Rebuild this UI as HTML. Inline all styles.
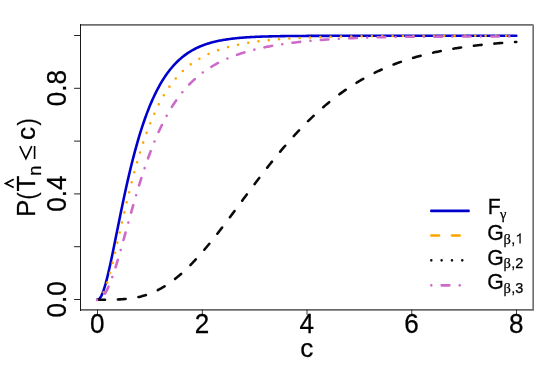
<!DOCTYPE html>
<html><head><meta charset="utf-8"><title>plot</title>
<style>html,body{margin:0;padding:0;background:#fff;}svg{display:block;will-change:transform;}text{font-family:"Liberation Sans",sans-serif;fill:#000;stroke:#000;stroke-width:0.25px;}.ser{font-family:"Liberation Serif",serif;}</style>
</head><body>
<svg width="558" height="372" viewBox="0 0 558 372">
<rect x="0" y="0" width="558" height="372" fill="#fff"/>
<path d="M97.26,299.70 L98.31,299.49 L99.36,298.76 L100.40,297.46 L101.45,295.61 L102.50,293.24 L103.55,290.41 L104.59,287.16 L105.64,283.54 L106.69,279.59 L107.74,275.36 L108.78,270.90 L109.83,266.23 L110.88,261.40 L111.93,256.45 L112.97,251.39 L114.02,246.25 L115.07,241.07 L116.12,235.86 L117.16,230.64 L118.21,225.43 L119.26,220.25 L120.31,215.10 L121.35,210.00 L122.40,204.95 L123.45,199.98 L124.50,195.08 L125.55,190.26 L126.59,185.53 L127.64,180.89 L128.69,176.34 L129.74,171.90 L130.78,167.55 L131.83,163.30 L132.88,159.15 L133.93,155.11 L134.97,151.17 L136.02,147.33 L137.07,143.59 L138.12,139.96 L139.16,136.42 L140.21,132.99 L141.26,129.66 L142.31,126.42 L143.35,123.28 L144.40,120.23 L145.45,117.27 L146.50,114.41 L147.54,111.63 L148.59,108.94 L149.64,106.33 L150.69,103.81 L151.74,101.37 L152.78,99.00 L153.83,96.71 L154.88,94.50 L155.93,92.36 L156.97,90.29 L158.02,88.29 L159.07,86.36 L160.12,84.49 L161.16,82.68 L162.21,80.94 L163.26,79.25 L164.31,77.63 L165.35,76.06 L166.40,74.54 L167.45,73.08 L168.50,71.67 L169.54,70.30 L170.59,68.99 L171.64,67.72 L172.69,66.50 L173.73,65.32 L174.78,64.18 L175.83,63.09 L176.88,62.03 L177.93,61.01 L178.97,60.03 L180.02,59.09 L181.07,58.18 L182.12,57.30 L183.16,56.46 L184.21,55.64 L185.26,54.86 L186.31,54.10 L187.35,53.38 L188.40,52.68 L189.45,52.01 L190.50,51.36 L191.54,50.74 L192.59,50.14 L193.64,49.56 L194.69,49.01 L195.73,48.47 L196.78,47.96 L197.83,47.47 L198.88,46.99 L199.92,46.54 L200.97,46.10 L202.02,45.68 L203.07,45.28 L204.12,44.89 L205.16,44.51 L206.21,44.15 L207.26,43.81 L208.31,43.48 L209.35,43.16 L210.40,42.86 L211.45,42.56 L212.50,42.28 L213.54,42.01 L214.59,41.75 L215.64,41.50 L216.69,41.26 L217.73,41.03 L218.78,40.81 L219.83,40.60 L220.88,40.40 L221.92,40.21 L222.97,40.02 L224.02,39.84 L225.07,39.67 L226.11,39.50 L227.16,39.35 L228.21,39.19 L229.26,39.05 L230.31,38.91 L231.35,38.78 L232.40,38.65 L233.45,38.53 L234.50,38.41 L235.54,38.30 L236.59,38.19 L237.64,38.09 L238.69,37.99 L239.73,37.89 L240.78,37.80 L241.83,37.71 L242.88,37.63 L243.92,37.55 L244.97,37.48 L246.02,37.40 L247.07,37.33 L248.11,37.27 L249.16,37.20 L250.21,37.14 L251.26,37.08 L252.30,37.02 L253.35,36.97 L254.40,36.92 L255.45,36.87 L256.50,36.82 L257.54,36.78 L258.59,36.73 L259.64,36.69 L260.69,36.65 L261.73,36.61 L262.78,36.58 L263.83,36.54 L264.88,36.51 L265.92,36.48 L266.97,36.45 L268.02,36.42 L269.07,36.39 L270.11,36.37 L271.16,36.34 L272.21,36.32 L273.26,36.29 L274.30,36.27 L275.35,36.25 L276.40,36.23 L277.45,36.21 L278.49,36.19 L279.54,36.17 L280.59,36.16 L281.64,36.14 L282.69,36.13 L283.73,36.11 L284.78,36.10 L285.83,36.08 L286.88,36.07 L287.92,36.06 L288.97,36.05 L290.02,36.03 L291.07,36.02 L292.11,36.01 L293.16,36.00 L294.21,35.99 L295.26,35.99 L296.30,35.98 L297.35,35.97 L298.40,35.96 L299.45,35.95 L300.49,35.95 L301.54,35.94 L302.59,35.93 L303.64,35.93 L304.68,35.92 L305.73,35.92 L306.78,35.91 L307.83,35.91 L308.88,35.90 L309.92,35.90 L310.97,35.89 L312.02,35.89 L313.07,35.88 L314.11,35.88 L315.16,35.88 L316.21,35.87 L317.26,35.87 L318.30,35.87 L319.35,35.86 L320.40,35.86 L321.45,35.86 L322.49,35.85 L323.54,35.85 L324.59,35.85 L325.64,35.85 L326.68,35.84 L327.73,35.84 L328.78,35.84 L329.83,35.84 L330.87,35.84 L331.92,35.84 L332.97,35.83 L334.02,35.83 L335.07,35.83 L336.11,35.83 L337.16,35.83 L338.21,35.83 L339.26,35.83 L340.30,35.82 L341.35,35.82 L342.40,35.82 L343.45,35.82 L344.49,35.82 L345.54,35.82 L346.59,35.82 L347.64,35.82 L348.68,35.82 L349.73,35.82 L350.78,35.81 L351.83,35.81 L352.87,35.81 L353.92,35.81 L354.97,35.81 L356.02,35.81 L357.06,35.81 L358.11,35.81 L359.16,35.81 L360.21,35.81 L361.26,35.81 L362.30,35.81 L363.35,35.81 L364.40,35.81 L365.45,35.81 L366.49,35.81 L367.54,35.81 L368.59,35.81 L369.64,35.81 L370.68,35.81 L371.73,35.81 L372.78,35.81 L373.83,35.81 L374.87,35.80 L375.92,35.80 L376.97,35.80 L378.02,35.80 L379.06,35.80 L380.11,35.80 L381.16,35.80 L382.21,35.80 L383.25,35.80 L384.30,35.80 L385.35,35.80 L386.40,35.80 L387.45,35.80 L388.49,35.80 L389.54,35.80 L390.59,35.80 L391.64,35.80 L392.68,35.80 L393.73,35.80 L394.78,35.80 L395.83,35.80 L396.87,35.80 L397.92,35.80 L398.97,35.80 L400.02,35.80 L401.06,35.80 L402.11,35.80 L403.16,35.80 L404.21,35.80 L405.25,35.80 L406.30,35.80 L407.35,35.80 L408.40,35.80 L409.44,35.80 L410.49,35.80 L411.54,35.80 L412.59,35.80 L413.64,35.80 L414.68,35.80 L415.73,35.80 L416.78,35.80 L417.83,35.80 L418.87,35.80 L419.92,35.80 L420.97,35.80 L422.02,35.80 L423.06,35.80 L424.11,35.80 L425.16,35.80 L426.21,35.80 L427.25,35.80 L428.30,35.80 L429.35,35.80 L430.40,35.80 L431.44,35.80 L432.49,35.80 L433.54,35.80 L434.59,35.80 L435.63,35.80 L436.68,35.80 L437.73,35.80 L438.78,35.80 L439.83,35.80 L440.87,35.80 L441.92,35.80 L442.97,35.80 L444.02,35.80 L445.06,35.80 L446.11,35.80 L447.16,35.80 L448.21,35.80 L449.25,35.80 L450.30,35.80 L451.35,35.80 L452.40,35.80 L453.44,35.80 L454.49,35.80 L455.54,35.80 L456.59,35.80 L457.63,35.80 L458.68,35.80 L459.73,35.80 L460.78,35.80 L461.82,35.80 L462.87,35.80 L463.92,35.80 L464.97,35.80 L466.02,35.80 L467.06,35.80 L468.11,35.80 L469.16,35.80 L470.21,35.80 L471.25,35.80 L472.30,35.80 L473.35,35.80 L474.40,35.80 L475.44,35.80 L476.49,35.80 L477.54,35.80 L478.59,35.80 L479.63,35.80 L480.68,35.80 L481.73,35.80 L482.78,35.80 L483.82,35.80 L484.87,35.80 L485.92,35.80 L486.97,35.80 L488.01,35.80 L489.06,35.80 L490.11,35.80 L491.16,35.80 L492.21,35.80 L493.25,35.80 L494.30,35.80 L495.35,35.80 L496.40,35.80 L497.44,35.80 L498.49,35.80 L499.54,35.80 L500.59,35.80 L501.63,35.80 L502.68,35.80 L503.73,35.80 L504.78,35.80 L505.82,35.80 L506.87,35.80 L507.92,35.80 L508.97,35.80 L510.01,35.80 L511.06,35.80 L512.11,35.80 L513.16,35.80 L514.20,35.80 L515.25,35.80 L516.30,35.80" stroke="#0000cd" fill="none" stroke-width="2.58" stroke-linecap="round" stroke-linejoin="round"/>
<path d="M97.26,299.70 L98.31,299.55 L99.36,299.00 L100.40,298.03 L101.45,296.64 L102.50,294.86 L103.55,292.70 L104.59,290.20 L105.64,287.38 L106.69,284.28 L107.74,280.92 L108.78,277.34 L109.83,273.55 L110.88,269.60 L111.93,265.49 L112.97,261.26 L114.02,256.92 L115.07,252.51 L116.12,248.02 L117.16,243.49 L118.21,238.92 L119.26,234.34 L120.31,229.75 L121.35,225.16 L122.40,220.60 L123.45,216.06 L124.50,211.56 L125.55,207.10 L126.59,202.69 L127.64,198.33 L128.69,194.04 L129.74,189.81 L130.78,185.66 L131.83,181.57 L132.88,177.57 L133.93,173.64 L134.97,169.80 L136.02,166.03 L137.07,162.35 L138.12,158.76 L139.16,155.24 L140.21,151.82 L141.26,148.48 L142.31,145.22 L143.35,142.05 L144.40,138.96 L145.45,135.95 L146.50,133.02 L147.54,130.18 L148.59,127.41 L149.64,124.73 L150.69,122.12 L151.74,119.58 L152.78,117.12 L153.83,114.73 L154.88,112.41 L155.93,110.16 L156.97,107.98 L158.02,105.86 L159.07,103.81 L160.12,101.82 L161.16,99.89 L162.21,98.02 L163.26,96.21 L164.31,94.45 L165.35,92.75 L166.40,91.10 L167.45,89.50 L168.50,87.95 L169.54,86.45 L170.59,85.00 L171.64,83.59 L172.69,82.23 L173.73,80.90 L174.78,79.62 L175.83,78.38 L176.88,77.18 L177.93,76.02 L178.97,74.89 L180.02,73.80 L181.07,72.74 L182.12,71.71 L183.16,70.72 L184.21,69.75 L185.26,68.82 L186.31,67.91 L187.35,67.03 L188.40,66.18 L189.45,65.35 L190.50,64.55 L191.54,63.78 L192.59,63.02 L193.64,62.29 L194.69,61.59 L195.73,60.90 L196.78,60.23 L197.83,59.58 L198.88,58.95 L199.92,58.34 L200.97,57.75 L202.02,57.18 L203.07,56.62 L204.12,56.08 L205.16,55.55 L206.21,55.04 L207.26,54.54 L208.31,54.06 L209.35,53.59 L210.40,53.14 L211.45,52.69 L212.50,52.26 L213.54,51.85 L214.59,51.44 L215.64,51.04 L216.69,50.66 L217.73,50.28 L218.78,49.92 L219.83,49.57 L220.88,49.22 L221.92,48.89 L222.97,48.56 L224.02,48.24 L225.07,47.93 L226.11,47.63 L227.16,47.34 L228.21,47.06 L229.26,46.78 L230.31,46.51 L231.35,46.24 L232.40,45.99 L233.45,45.74 L234.50,45.49 L235.54,45.26 L236.59,45.03 L237.64,44.80 L238.69,44.58 L239.73,44.37 L240.78,44.16 L241.83,43.96 L242.88,43.76 L243.92,43.57 L244.97,43.38 L246.02,43.20 L247.07,43.02 L248.11,42.84 L249.16,42.67 L250.21,42.51 L251.26,42.34 L252.30,42.19 L253.35,42.03 L254.40,41.88 L255.45,41.74 L256.50,41.59 L257.54,41.45 L258.59,41.32 L259.64,41.19 L260.69,41.06 L261.73,40.93 L262.78,40.81 L263.83,40.69 L264.88,40.57 L265.92,40.46 L266.97,40.34 L268.02,40.23 L269.07,40.13 L270.11,40.02 L271.16,39.92 L272.21,39.82 L273.26,39.73 L274.30,39.63 L275.35,39.54 L276.40,39.45 L277.45,39.36 L278.49,39.28 L279.54,39.20 L280.59,39.11 L281.64,39.03 L282.69,38.96 L283.73,38.88 L284.78,38.81 L285.83,38.74 L286.88,38.66 L287.92,38.60 L288.97,38.53 L290.02,38.46 L291.07,38.40 L292.11,38.34 L293.16,38.28 L294.21,38.22 L295.26,38.16 L296.30,38.10 L297.35,38.05 L298.40,37.99 L299.45,37.94 L300.49,37.89 L301.54,37.84 L302.59,37.79 L303.64,37.74 L304.68,37.69 L305.73,37.65 L306.78,37.60 L307.83,37.56 L308.88,37.52 L309.92,37.47 L310.97,37.43 L312.02,37.39 L313.07,37.36 L314.11,37.32 L315.16,37.28 L316.21,37.25 L317.26,37.21 L318.30,37.18 L319.35,37.14 L320.40,37.11 L321.45,37.08 L322.49,37.05 L323.54,37.02 L324.59,36.99 L325.64,36.96 L326.68,36.93 L327.73,36.90 L328.78,36.88 L329.83,36.85 L330.87,36.82 L331.92,36.80 L332.97,36.77 L334.02,36.75 L335.07,36.73 L336.11,36.70 L337.16,36.68 L338.21,36.66 L339.26,36.64 L340.30,36.62 L341.35,36.60 L342.40,36.58 L343.45,36.56 L344.49,36.54 L345.54,36.52 L346.59,36.50 L347.64,36.49 L348.68,36.47 L349.73,36.45 L350.78,36.44 L351.83,36.42 L352.87,36.41 L353.92,36.39 L354.97,36.38 L356.02,36.36 L357.06,36.35 L358.11,36.34 L359.16,36.32 L360.21,36.31 L361.26,36.30 L362.30,36.28 L363.35,36.27 L364.40,36.26 L365.45,36.25 L366.49,36.24 L367.54,36.23 L368.59,36.22 L369.64,36.21 L370.68,36.20 L371.73,36.19 L372.78,36.18 L373.83,36.17 L374.87,36.16 L375.92,36.15 L376.97,36.14 L378.02,36.13 L379.06,36.12 L380.11,36.12 L381.16,36.11 L382.21,36.10 L383.25,36.09 L384.30,36.09 L385.35,36.08 L386.40,36.07 L387.45,36.06 L388.49,36.06 L389.54,36.05 L390.59,36.04 L391.64,36.04 L392.68,36.03 L393.73,36.03 L394.78,36.02 L395.83,36.02 L396.87,36.01 L397.92,36.00 L398.97,36.00 L400.02,35.99 L401.06,35.99 L402.11,35.98 L403.16,35.98 L404.21,35.98 L405.25,35.97 L406.30,35.97 L407.35,35.96 L408.40,35.96 L409.44,35.95 L410.49,35.95 L411.54,35.95 L412.59,35.94 L413.64,35.94 L414.68,35.94 L415.73,35.93 L416.78,35.93 L417.83,35.93 L418.87,35.92 L419.92,35.92 L420.97,35.92 L422.02,35.91 L423.06,35.91 L424.11,35.91 L425.16,35.91 L426.21,35.90 L427.25,35.90 L428.30,35.90 L429.35,35.89 L430.40,35.89 L431.44,35.89 L432.49,35.89 L433.54,35.89 L434.59,35.88 L435.63,35.88 L436.68,35.88 L437.73,35.88 L438.78,35.88 L439.83,35.87 L440.87,35.87 L441.92,35.87 L442.97,35.87 L444.02,35.87 L445.06,35.86 L446.11,35.86 L447.16,35.86 L448.21,35.86 L449.25,35.86 L450.30,35.86 L451.35,35.86 L452.40,35.85 L453.44,35.85 L454.49,35.85 L455.54,35.85 L456.59,35.85 L457.63,35.85 L458.68,35.85 L459.73,35.84 L460.78,35.84 L461.82,35.84 L462.87,35.84 L463.92,35.84 L464.97,35.84 L466.02,35.84 L467.06,35.84 L468.11,35.84 L469.16,35.84 L470.21,35.83 L471.25,35.83 L472.30,35.83 L473.35,35.83 L474.40,35.83 L475.44,35.83 L476.49,35.83 L477.54,35.83 L478.59,35.83 L479.63,35.83 L480.68,35.83 L481.73,35.83 L482.78,35.83 L483.82,35.82 L484.87,35.82 L485.92,35.82 L486.97,35.82 L488.01,35.82 L489.06,35.82 L490.11,35.82 L491.16,35.82 L492.21,35.82 L493.25,35.82 L494.30,35.82 L495.35,35.82 L496.40,35.82 L497.44,35.82 L498.49,35.82 L499.54,35.82 L500.59,35.82 L501.63,35.82 L502.68,35.82 L503.73,35.81 L504.78,35.81 L505.82,35.81 L506.87,35.81 L507.92,35.81 L508.97,35.81 L510.01,35.81 L511.06,35.81 L512.11,35.81 L513.16,35.81 L514.20,35.81 L515.25,35.81 L516.30,35.81" stroke="#ffa500" stroke-dasharray="0 10.333" stroke-dashoffset="0.1" fill="none" stroke-width="2.58" stroke-linecap="round" stroke-linejoin="round"/>
<path d="M97.26,299.70 L98.31,299.70 L99.36,299.70 L100.40,299.70 L101.45,299.70 L102.50,299.70 L103.55,299.69 L104.59,299.69 L105.64,299.69 L106.69,299.68 L107.74,299.67 L108.78,299.66 L109.83,299.65 L110.88,299.64 L111.93,299.62 L112.97,299.60 L114.02,299.58 L115.07,299.55 L116.12,299.52 L117.16,299.49 L118.21,299.45 L119.26,299.40 L120.31,299.35 L121.35,299.29 L122.40,299.23 L123.45,299.15 L124.50,299.07 L125.55,298.99 L126.59,298.89 L127.64,298.78 L128.69,298.67 L129.74,298.54 L130.78,298.41 L131.83,298.26 L132.88,298.11 L133.93,297.94 L134.97,297.76 L136.02,297.56 L137.07,297.35 L138.12,297.13 L139.16,296.90 L140.21,296.65 L141.26,296.39 L142.31,296.11 L143.35,295.82 L144.40,295.51 L145.45,295.19 L146.50,294.85 L147.54,294.49 L148.59,294.12 L149.64,293.73 L150.69,293.33 L151.74,292.90 L152.78,292.46 L153.83,292.01 L154.88,291.53 L155.93,291.04 L156.97,290.53 L158.02,290.00 L159.07,289.46 L160.12,288.89 L161.16,288.31 L162.21,287.71 L163.26,287.10 L164.31,286.46 L165.35,285.81 L166.40,285.14 L167.45,284.45 L168.50,283.74 L169.54,283.02 L170.59,282.28 L171.64,281.52 L172.69,280.75 L173.73,279.96 L174.78,279.15 L175.83,278.32 L176.88,277.48 L177.93,276.62 L178.97,275.74 L180.02,274.85 L181.07,273.94 L182.12,273.01 L183.16,272.06 L184.21,271.10 L185.26,270.12 L186.31,269.13 L187.35,268.12 L188.40,267.09 L189.45,266.05 L190.50,264.99 L191.54,263.92 L192.59,262.83 L193.64,261.73 L194.69,260.62 L195.73,259.49 L196.78,258.35 L197.83,257.20 L198.88,256.03 L199.92,254.85 L200.97,253.66 L202.02,252.45 L203.07,251.24 L204.12,250.01 L205.16,248.77 L206.21,247.52 L207.26,246.27 L208.31,245.00 L209.35,243.72 L210.40,242.43 L211.45,241.14 L212.50,239.83 L213.54,238.52 L214.59,237.20 L215.64,235.87 L216.69,234.53 L217.73,233.19 L218.78,231.84 L219.83,230.49 L220.88,229.13 L221.92,227.76 L222.97,226.39 L224.02,225.01 L225.07,223.63 L226.11,222.24 L227.16,220.85 L228.21,219.46 L229.26,218.06 L230.31,216.67 L231.35,215.26 L232.40,213.86 L233.45,212.45 L234.50,211.04 L235.54,209.63 L236.59,208.22 L237.64,206.81 L238.69,205.40 L239.73,203.99 L240.78,202.57 L241.83,201.16 L242.88,199.75 L243.92,198.34 L244.97,196.93 L246.02,195.52 L247.07,194.11 L248.11,192.71 L249.16,191.30 L250.21,189.90 L251.26,188.50 L252.30,187.11 L253.35,185.71 L254.40,184.32 L255.45,182.94 L256.50,181.56 L257.54,180.18 L258.59,178.80 L259.64,177.43 L260.69,176.06 L261.73,174.70 L262.78,173.35 L263.83,171.99 L264.88,170.65 L265.92,169.30 L266.97,167.97 L268.02,166.64 L269.07,165.31 L270.11,163.99 L271.16,162.68 L272.21,161.38 L273.26,160.08 L274.30,158.78 L275.35,157.49 L276.40,156.21 L277.45,154.94 L278.49,153.68 L279.54,152.42 L280.59,151.16 L281.64,149.92 L282.69,148.68 L283.73,147.45 L284.78,146.23 L285.83,145.02 L286.88,143.81 L287.92,142.61 L288.97,141.42 L290.02,140.24 L291.07,139.07 L292.11,137.90 L293.16,136.74 L294.21,135.59 L295.26,134.45 L296.30,133.32 L297.35,132.19 L298.40,131.08 L299.45,129.97 L300.49,128.87 L301.54,127.78 L302.59,126.70 L303.64,125.63 L304.68,124.56 L305.73,123.51 L306.78,122.46 L307.83,121.43 L308.88,120.40 L309.92,119.38 L310.97,118.37 L312.02,117.36 L313.07,116.37 L314.11,115.39 L315.16,114.41 L316.21,113.44 L317.26,112.49 L318.30,111.54 L319.35,110.60 L320.40,109.67 L321.45,108.74 L322.49,107.83 L323.54,106.93 L324.59,106.03 L325.64,105.14 L326.68,104.27 L327.73,103.40 L328.78,102.54 L329.83,101.68 L330.87,100.84 L331.92,100.01 L332.97,99.18 L334.02,98.36 L335.07,97.55 L336.11,96.75 L337.16,95.96 L338.21,95.18 L339.26,94.40 L340.30,93.64 L341.35,92.88 L342.40,92.13 L343.45,91.39 L344.49,90.65 L345.54,89.93 L346.59,89.21 L347.64,88.50 L348.68,87.80 L349.73,87.11 L350.78,86.42 L351.83,85.74 L352.87,85.07 L353.92,84.41 L354.97,83.76 L356.02,83.11 L357.06,82.47 L358.11,81.84 L359.16,81.22 L360.21,80.60 L361.26,79.99 L362.30,79.39 L363.35,78.80 L364.40,78.21 L365.45,77.63 L366.49,77.06 L367.54,76.49 L368.59,75.93 L369.64,75.38 L370.68,74.84 L371.73,74.30 L372.78,73.77 L373.83,73.24 L374.87,72.72 L375.92,72.21 L376.97,71.71 L378.02,71.21 L379.06,70.72 L380.11,70.23 L381.16,69.75 L382.21,69.28 L383.25,68.82 L384.30,68.35 L385.35,67.90 L386.40,67.45 L387.45,67.01 L388.49,66.57 L389.54,66.14 L390.59,65.72 L391.64,65.30 L392.68,64.88 L393.73,64.48 L394.78,64.07 L395.83,63.68 L396.87,63.29 L397.92,62.90 L398.97,62.52 L400.02,62.14 L401.06,61.77 L402.11,61.41 L403.16,61.05 L404.21,60.69 L405.25,60.34 L406.30,60.00 L407.35,59.66 L408.40,59.32 L409.44,58.99 L410.49,58.66 L411.54,58.34 L412.59,58.02 L413.64,57.71 L414.68,57.40 L415.73,57.10 L416.78,56.80 L417.83,56.51 L418.87,56.21 L419.92,55.93 L420.97,55.65 L422.02,55.37 L423.06,55.09 L424.11,54.82 L425.16,54.56 L426.21,54.30 L427.25,54.04 L428.30,53.78 L429.35,53.53 L430.40,53.28 L431.44,53.04 L432.49,52.80 L433.54,52.56 L434.59,52.33 L435.63,52.10 L436.68,51.88 L437.73,51.65 L438.78,51.44 L439.83,51.22 L440.87,51.01 L441.92,50.80 L442.97,50.59 L444.02,50.39 L445.06,50.19 L446.11,49.99 L447.16,49.80 L448.21,49.61 L449.25,49.42 L450.30,49.24 L451.35,49.05 L452.40,48.87 L453.44,48.70 L454.49,48.52 L455.54,48.35 L456.59,48.18 L457.63,48.02 L458.68,47.86 L459.73,47.69 L460.78,47.54 L461.82,47.38 L462.87,47.23 L463.92,47.08 L464.97,46.93 L466.02,46.78 L467.06,46.64 L468.11,46.50 L469.16,46.36 L470.21,46.22 L471.25,46.09 L472.30,45.95 L473.35,45.82 L474.40,45.69 L475.44,45.57 L476.49,45.44 L477.54,45.32 L478.59,45.20 L479.63,45.08 L480.68,44.96 L481.73,44.85 L482.78,44.73 L483.82,44.62 L484.87,44.51 L485.92,44.41 L486.97,44.30 L488.01,44.20 L489.06,44.09 L490.11,43.99 L491.16,43.89 L492.21,43.80 L493.25,43.70 L494.30,43.61 L495.35,43.51 L496.40,43.42 L497.44,43.33 L498.49,43.24 L499.54,43.16 L500.59,43.07 L501.63,42.99 L502.68,42.90 L503.73,42.82 L504.78,42.74 L505.82,42.66 L506.87,42.58 L507.92,42.51 L508.97,42.43 L510.01,42.36 L511.06,42.29 L512.11,42.21 L513.16,42.14 L514.20,42.08 L515.25,42.01 L516.30,41.94" stroke="#0a0a0a" stroke-dasharray="7.750 12.916" fill="none" stroke-width="2.58" stroke-linecap="round" stroke-linejoin="round"/>
<path d="M97.26,299.70 L98.31,299.58 L99.36,299.24 L100.40,298.69 L101.45,297.91 L102.50,296.90 L103.55,295.66 L104.59,294.18 L105.64,292.48 L106.69,290.57 L107.74,288.44 L108.78,286.13 L109.83,283.63 L110.88,280.96 L111.93,278.13 L112.97,275.15 L114.02,272.05 L115.07,268.83 L116.12,265.50 L117.16,262.08 L118.21,258.57 L119.26,255.00 L120.31,251.36 L121.35,247.68 L122.40,243.96 L123.45,240.21 L124.50,236.44 L125.55,232.65 L126.59,228.86 L127.64,225.07 L128.69,221.30 L129.74,217.53 L130.78,213.79 L131.83,210.07 L132.88,206.38 L133.93,202.73 L134.97,199.12 L136.02,195.55 L137.07,192.02 L138.12,188.54 L139.16,185.11 L140.21,181.74 L141.26,178.42 L142.31,175.15 L143.35,171.94 L144.40,168.79 L145.45,165.70 L146.50,162.67 L147.54,159.70 L148.59,156.79 L149.64,153.94 L150.69,151.15 L151.74,148.42 L152.78,145.76 L153.83,143.15 L154.88,140.60 L155.93,138.11 L156.97,135.68 L158.02,133.31 L159.07,130.99 L160.12,128.73 L161.16,126.53 L162.21,124.38 L163.26,122.28 L164.31,120.24 L165.35,118.25 L166.40,116.30 L167.45,114.41 L168.50,112.57 L169.54,110.77 L170.59,109.02 L171.64,107.31 L172.69,105.65 L173.73,104.04 L174.78,102.46 L175.83,100.92 L176.88,99.43 L177.93,97.97 L178.97,96.56 L180.02,95.17 L181.07,93.83 L182.12,92.52 L183.16,91.24 L184.21,90.00 L185.26,88.79 L186.31,87.61 L187.35,86.46 L188.40,85.34 L189.45,84.25 L190.50,83.19 L191.54,82.16 L192.59,81.15 L193.64,80.16 L194.69,79.21 L195.73,78.27 L196.78,77.36 L197.83,76.47 L198.88,75.61 L199.92,74.77 L200.97,73.94 L202.02,73.14 L203.07,72.36 L204.12,71.59 L205.16,70.85 L206.21,70.12 L207.26,69.41 L208.31,68.72 L209.35,68.04 L210.40,67.38 L211.45,66.74 L212.50,66.11 L213.54,65.49 L214.59,64.89 L215.64,64.31 L216.69,63.73 L217.73,63.17 L218.78,62.63 L219.83,62.09 L220.88,61.57 L221.92,61.06 L222.97,60.56 L224.02,60.07 L225.07,59.59 L226.11,59.12 L227.16,58.67 L228.21,58.22 L229.26,57.78 L230.31,57.35 L231.35,56.94 L232.40,56.53 L233.45,56.13 L234.50,55.73 L235.54,55.35 L236.59,54.97 L237.64,54.60 L238.69,54.24 L239.73,53.89 L240.78,53.54 L241.83,53.21 L242.88,52.87 L243.92,52.55 L244.97,52.23 L246.02,51.92 L247.07,51.61 L248.11,51.31 L249.16,51.02 L250.21,50.73 L251.26,50.45 L252.30,50.17 L253.35,49.90 L254.40,49.64 L255.45,49.38 L256.50,49.12 L257.54,48.87 L258.59,48.63 L259.64,48.38 L260.69,48.15 L261.73,47.92 L262.78,47.69 L263.83,47.47 L264.88,47.25 L265.92,47.04 L266.97,46.83 L268.02,46.62 L269.07,46.42 L270.11,46.22 L271.16,46.02 L272.21,45.83 L273.26,45.65 L274.30,45.46 L275.35,45.28 L276.40,45.11 L277.45,44.93 L278.49,44.76 L279.54,44.59 L280.59,44.43 L281.64,44.27 L282.69,44.11 L283.73,43.96 L284.78,43.81 L285.83,43.66 L286.88,43.51 L287.92,43.37 L288.97,43.22 L290.02,43.09 L291.07,42.95 L292.11,42.82 L293.16,42.69 L294.21,42.56 L295.26,42.43 L296.30,42.31 L297.35,42.19 L298.40,42.07 L299.45,41.95 L300.49,41.84 L301.54,41.72 L302.59,41.61 L303.64,41.50 L304.68,41.40 L305.73,41.29 L306.78,41.19 L307.83,41.09 L308.88,40.99 L309.92,40.89 L310.97,40.80 L312.02,40.70 L313.07,40.61 L314.11,40.52 L315.16,40.43 L316.21,40.35 L317.26,40.26 L318.30,40.18 L319.35,40.10 L320.40,40.01 L321.45,39.94 L322.49,39.86 L323.54,39.78 L324.59,39.71 L325.64,39.63 L326.68,39.56 L327.73,39.49 L328.78,39.42 L329.83,39.35 L330.87,39.29 L331.92,39.22 L332.97,39.16 L334.02,39.09 L335.07,39.03 L336.11,38.97 L337.16,38.91 L338.21,38.85 L339.26,38.79 L340.30,38.74 L341.35,38.68 L342.40,38.63 L343.45,38.57 L344.49,38.52 L345.54,38.47 L346.59,38.42 L347.64,38.37 L348.68,38.32 L349.73,38.27 L350.78,38.23 L351.83,38.18 L352.87,38.13 L353.92,38.09 L354.97,38.05 L356.02,38.00 L357.06,37.96 L358.11,37.92 L359.16,37.88 L360.21,37.84 L361.26,37.80 L362.30,37.76 L363.35,37.73 L364.40,37.69 L365.45,37.65 L366.49,37.62 L367.54,37.58 L368.59,37.55 L369.64,37.52 L370.68,37.48 L371.73,37.45 L372.78,37.42 L373.83,37.39 L374.87,37.36 L375.92,37.33 L376.97,37.30 L378.02,37.27 L379.06,37.25 L380.11,37.22 L381.16,37.19 L382.21,37.17 L383.25,37.15 L384.30,37.12 L385.35,37.10 L386.40,37.08 L387.45,37.06 L388.49,37.04 L389.54,37.02 L390.59,37.01 L391.64,36.99 L392.68,36.97 L393.73,36.95 L394.78,36.94 L395.83,36.92 L396.87,36.91 L397.92,36.90 L398.97,36.88 L400.02,36.87 L401.06,36.86 L402.11,36.85 L403.16,36.84 L404.21,36.83 L405.25,36.82 L406.30,36.81 L407.35,36.80 L408.40,36.79 L409.44,36.78 L410.49,36.77 L411.54,36.77 L412.59,36.76 L413.64,36.75 L414.68,36.74 L415.73,36.74 L416.78,36.73 L417.83,36.73 L418.87,36.72 L419.92,36.72 L420.97,36.71 L422.02,36.71 L423.06,36.70 L424.11,36.70 L425.16,36.70 L426.21,36.69 L427.25,36.69 L428.30,36.69 L429.35,36.68 L430.40,36.68 L431.44,36.68 L432.49,36.67 L433.54,36.67 L434.59,36.67 L435.63,36.67 L436.68,36.66 L437.73,36.66 L438.78,36.66 L439.83,36.65 L440.87,36.65 L441.92,36.65 L442.97,36.65 L444.02,36.64 L445.06,36.64 L446.11,36.64 L447.16,36.64 L448.21,36.63 L449.25,36.63 L450.30,36.63 L451.35,36.62 L452.40,36.62 L453.44,36.62 L454.49,36.61 L455.54,36.61 L456.59,36.61 L457.63,36.60 L458.68,36.60 L459.73,36.59 L460.78,36.59 L461.82,36.58 L462.87,36.58 L463.92,36.57 L464.97,36.56 L466.02,36.56 L467.06,36.55 L468.11,36.55 L469.16,36.54 L470.21,36.54 L471.25,36.53 L472.30,36.53 L473.35,36.52 L474.40,36.52 L475.44,36.51 L476.49,36.51 L477.54,36.50 L478.59,36.50 L479.63,36.49 L480.68,36.49 L481.73,36.49 L482.78,36.48 L483.82,36.48 L484.87,36.47 L485.92,36.47 L486.97,36.47 L488.01,36.46 L489.06,36.46 L490.11,36.46 L491.16,36.45 L492.21,36.45 L493.25,36.44 L494.30,36.44 L495.35,36.44 L496.40,36.43 L497.44,36.43 L498.49,36.43 L499.54,36.43 L500.59,36.42 L501.63,36.42 L502.68,36.42 L503.73,36.41 L504.78,36.41 L505.82,36.41 L506.87,36.41 L507.92,36.40 L508.97,36.40 L510.01,36.40 L511.06,36.40 L512.11,36.39 L513.16,36.39 L514.20,36.39 L515.25,36.39 L516.30,36.38" stroke="#cd69c9" stroke-dasharray="0 10.333 7.750 10.333" stroke-dashoffset="0.1" fill="none" stroke-width="2.58" stroke-linecap="round" stroke-linejoin="round"/>
<circle cx="97.06" cy="300.00" r="1.29" fill="#cd69c9"/>
<g shape-rendering="crispEdges">
<rect x="81" y="24" width="452" height="1" fill="#707070"/>
<rect x="81" y="25" width="451" height="1" fill="#909090"/>
<rect x="532" y="25" width="1" height="285" fill="#a0a0a0"/>
<rect x="533" y="25" width="1" height="285" fill="#707070"/>
<rect x="81" y="309" width="452" height="1" fill="#686868"/>
<rect x="81" y="310" width="453" height="1" fill="#909090"/>
<rect x="533" y="24" width="1" height="1" fill="#b0b0b0"/>
<rect x="80" y="24" width="1" height="287" fill="#1a1a1a"/>
</g>
<rect x="74.1" y="299.00" width="6.4" height="1" fill="#222"/>
<rect x="74.1" y="246.20" width="6.4" height="1" fill="#222"/>
<rect x="74.1" y="193.40" width="6.4" height="1" fill="#222"/>
<rect x="74.1" y="140.60" width="6.4" height="1" fill="#222"/>
<rect x="74.1" y="87.80" width="6.4" height="1" fill="#222"/>
<rect x="74.1" y="35.00" width="6.4" height="1" fill="#222"/>
<rect x="97.06" y="309.5" width="0.9" height="5.3" fill="#222"/>
<rect x="201.82" y="309.5" width="0.9" height="5.3" fill="#222"/>
<rect x="306.58" y="309.5" width="0.9" height="5.3" fill="#222"/>
<rect x="411.34" y="309.5" width="0.9" height="5.3" fill="#222"/>
<rect x="516.10" y="309.5" width="0.9" height="5.3" fill="#222"/>
<text transform="translate(97.26,332.6) scale(1,1.04)" font-size="26.10" text-anchor="middle">0</text>
<text transform="translate(202.02,332.6) scale(1,1.04)" font-size="26.10" text-anchor="middle">2</text>
<text transform="translate(306.78,332.6) scale(1,1.04)" font-size="26.10" text-anchor="middle">4</text>
<text transform="translate(411.54,332.6) scale(1,1.04)" font-size="26.10" text-anchor="middle">6</text>
<text transform="translate(516.30,332.6) scale(1,1.04)" font-size="26.10" text-anchor="middle">8</text>
<text transform="translate(66.2,299.30) rotate(-90) scale(1,1.05)" font-size="26.10" text-anchor="middle">0.0</text>
<text transform="translate(66.2,193.70) rotate(-90) scale(1,1.05)" font-size="26.10" text-anchor="middle">0.4</text>
<text transform="translate(66.2,88.10) rotate(-90) scale(1,1.05)" font-size="26.10" text-anchor="middle">0.8</text>
<text x="306.8" y="357.2" font-size="26.10" text-anchor="middle">c</text>
<g transform="translate(35.2,216.95) rotate(-90)" font-size="26.10">
<text x="0" y="0">P</text>
<text transform="translate(17.5,0.8) scale(0.82,1)">(</text>
<text x="25.4" y="0">T</text>
<polyline points="29.4,-21.5 33.5,-29.6 37.6,-21.5" fill="none" stroke="#000" stroke-width="1.7" stroke-linejoin="miter"/>
<text x="41.2" y="6.0" font-size="18.27">n</text>
<path d="M70.85,-15.4 L58.3,-9.3 L70.85,-3.4 M57.85,-0.6 L70.85,-0.6" fill="none" stroke="#000" stroke-width="1.6"/>
<text x="77.05" y="0">c</text>
<text transform="translate(91.5,0.8) scale(0.82,1)">)</text>
</g>
<path d="M431.30,210.90 L468.60,210.90" stroke="#0000cd" fill="none" stroke-width="2.58" stroke-linecap="round" stroke-linejoin="round"/>
<path d="M431.30,235.50 L468.60,235.50" stroke="#ffa500" stroke-dasharray="7.75 12.92" fill="none" stroke-width="2.58" stroke-linecap="round" stroke-linejoin="round"/>
<path d="M431.30,260.35 L468.60,260.35" stroke="#111111" stroke-dasharray="0 10.33" fill="none" stroke-width="2.58" stroke-linecap="round" stroke-linejoin="round"/>
<path d="M431.30,285.35 L468.60,285.35" stroke="#cd69c9" stroke-dasharray="0 10.33 7.75 10.33" fill="none" stroke-width="2.58" stroke-linecap="round" stroke-linejoin="round"/>
<text transform="translate(487.8,214.40) scale(1,1.05)" font-size="21.20">F</text>
<text class="ser" x="500.1" y="218.70" font-size="14.46">γ</text>
<text transform="translate(487.2,239.80) scale(1,1.05)" font-size="21.20">G</text>
<text class="ser" x="503.6" y="243.60" font-size="14.46">β</text>
<text x="511.3" y="243.60" font-size="14.46">,</text>
<path d="M520.69,243.50 L519.42,243.50 L519.42,235.40 L518.91,235.84 L517.90,236.41 L516.88,236.85 L516.88,235.62 L518.19,234.97 L519.35,233.96 L519.87,233.15 L520.69,233.15 Z" fill="#000"/>
<text transform="translate(487.2,264.50) scale(1,1.05)" font-size="21.20">G</text>
<text class="ser" x="503.6" y="268.30" font-size="14.46">β</text>
<text x="511.3" y="268.30" font-size="14.46">,</text>
<text x="515.3" y="268.20" font-size="14.46">2</text>
<text transform="translate(487.2,289.20) scale(1,1.05)" font-size="21.20">G</text>
<text class="ser" x="503.6" y="293.00" font-size="14.46">β</text>
<text x="511.3" y="293.00" font-size="14.46">,</text>
<text x="515.3" y="292.90" font-size="14.46">3</text>
</svg></body></html>
